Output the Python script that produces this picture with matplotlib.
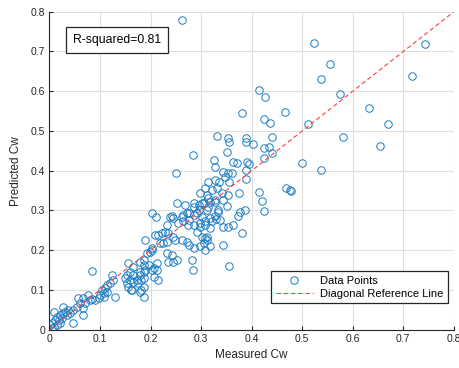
import matplotlib
matplotlib.use('Agg')
import matplotlib.pyplot as plt

plt.rcParams['font.family'] = ['Liberation Sans', 'DejaVu Sans']

# measured / predicted Cw pairs
measured = [
    0.524, 0.742, 0.555, 0.537, 0.718, 0.575, 0.633, 0.512, 0.670, 0.581,
    0.653, 0.499, 0.537, 0.478, 0.465, 0.468, 0.476, 0.262, 0.415, 0.427,
    0.381, 0.425, 0.436, 0.331, 0.353, 0.389, 0.441, 0.355, 0.389, 0.402,
    0.425, 0.435, 0.440, 0.425, 0.284, 0.351, 0.326, 0.363, 0.371, 0.390,
    0.395, 0.328, 0.388, 0.344, 0.354, 0.361, 0.348, 0.314, 0.328, 0.336,
    0.356, 0.389, 0.374, 0.415, 0.308, 0.321, 0.331, 0.298, 0.311, 0.341,
    0.354, 0.314, 0.328, 0.344, 0.420, 0.351, 0.333, 0.301, 0.314, 0.387,
    0.377, 0.373, 0.425, 0.291, 0.301, 0.308, 0.318, 0.328, 0.334, 0.364,
    0.354, 0.344, 0.381, 0.318, 0.308, 0.298, 0.291, 0.301, 0.311, 0.251,
    0.295, 0.285, 0.268, 0.272,
    0.252, 0.285, 0.295, 0.305, 0.318, 0.328, 0.202, 0.211, 0.242, 0.245,
    0.265, 0.277, 0.285, 0.311, 0.265, 0.277, 0.275, 0.285, 0.298, 0.321,
    0.330, 0.338, 0.232, 0.209, 0.222, 0.229, 0.235, 0.245, 0.249, 0.262,
    0.272, 0.277, 0.285, 0.298, 0.305, 0.307, 0.311, 0.318, 0.308, 0.343,
    0.189, 0.225, 0.232, 0.192, 0.199, 0.202, 0.219, 0.232, 0.242, 0.245,
    0.235, 0.252, 0.282, 0.284, 0.356, 0.179, 0.186, 0.196, 0.202, 0.212,
    0.215, 0.189, 0.179, 0.182, 0.186, 0.186,
    0.239, 0.254, 0.262, 0.215, 0.202, 0.156, 0.159, 0.166, 0.179, 0.186,
    0.186, 0.173, 0.166, 0.176, 0.163, 0.179, 0.159, 0.153, 0.206, 0.206,
    0.212,
    0.084, 0.123, 0.126, 0.120, 0.113, 0.110, 0.103, 0.107, 0.100, 0.113,
    0.130, 0.107, 0.097, 0.090, 0.084, 0.077, 0.080, 0.150, 0.153, 0.156,
    0.161, 0.057, 0.067, 0.070, 0.060, 0.054, 0.067, 0.047, 0.037, 0.031,
    0.041, 0.034, 0.027, 0.027, 0.021, 0.024, 0.014, 0.011, 0.004, 0.008,
    0.047, 0.018, 0.014, 0.004, 0.001, 0.008, 0.021, 0.067, 0.166, 0.182,
    0.186,
]
predicted = [
    0.722, 0.718, 0.669, 0.630, 0.639, 0.594, 0.558, 0.518, 0.518, 0.485,
    0.461, 0.418, 0.402, 0.349, 0.548, 0.356, 0.350, 0.779, 0.602, 0.586,
    0.545, 0.531, 0.521, 0.487, 0.483, 0.482, 0.484, 0.471, 0.471, 0.467,
    0.457, 0.459, 0.444, 0.431, 0.440, 0.446, 0.427, 0.423, 0.420, 0.423,
    0.416, 0.410, 0.402, 0.397, 0.395, 0.393, 0.385, 0.372, 0.377, 0.372,
    0.372, 0.378, 0.343, 0.346, 0.356, 0.351, 0.356, 0.343, 0.339, 0.343,
    0.339, 0.330, 0.326, 0.326, 0.324, 0.311, 0.301, 0.318, 0.308, 0.301,
    0.297, 0.287, 0.298, 0.293, 0.283, 0.274, 0.280, 0.286, 0.297, 0.263,
    0.257, 0.259, 0.244, 0.255, 0.263, 0.259, 0.246, 0.234, 0.232, 0.394,
    0.301, 0.309, 0.314, 0.293,
    0.318, 0.318, 0.314, 0.318, 0.322, 0.322, 0.294, 0.283, 0.286, 0.280,
    0.288, 0.293, 0.288, 0.301, 0.272, 0.276, 0.263, 0.263, 0.268, 0.272,
    0.278, 0.276, 0.263, 0.238, 0.244, 0.246, 0.242, 0.234, 0.225, 0.225,
    0.221, 0.213, 0.205, 0.209, 0.217, 0.230, 0.225, 0.209, 0.201, 0.213,
    0.225, 0.217, 0.221, 0.192, 0.196, 0.200, 0.217, 0.192, 0.188, 0.171,
    0.171, 0.175, 0.175, 0.150, 0.160, 0.171, 0.163, 0.163, 0.150, 0.150,
    0.125, 0.150, 0.137, 0.125, 0.108, 0.083,
    0.284, 0.268, 0.284, 0.238, 0.205, 0.167, 0.146, 0.158, 0.146, 0.146,
    0.129, 0.125, 0.137, 0.116, 0.100, 0.095, 0.125, 0.137, 0.154, 0.133,
    0.167,
    0.148, 0.137, 0.125, 0.116, 0.112, 0.104, 0.100, 0.091, 0.087, 0.095,
    0.083, 0.083, 0.079, 0.074, 0.076, 0.087, 0.074, 0.129, 0.116, 0.108,
    0.100, 0.079, 0.079, 0.066, 0.066, 0.057, 0.053, 0.049, 0.049, 0.045,
    0.041, 0.037, 0.057, 0.041, 0.037, 0.028, 0.032, 0.024, 0.016, 0.045,
    0.016, 0.024, 0.011, 0.003, 0.011, 0.007, 0.016, 0.037, 0.120, 0.100,
    0.175,
]
diag = [0, 0.8]
ticks = [0, 0.1, 0.2, 0.3, 0.4, 0.5, 0.6, 0.7, 0.8]
tick_labels = ['0', '0.1', '0.2', '0.3', '0.4', '0.5', '0.6', '0.7', '0.8']
r2_text = 'R-squared=0.81'

fig = plt.figure(figsize=(4.6, 3.68), dpi=100)
ax = fig.add_axes([0.1076, 0.1046, 0.879, 0.8634])

ax.plot(measured, predicted, 'o', linestyle='none', markersize=5.4,
        markerfacecolor='none', markeredgecolor='#1a7cc4', markeredgewidth=0.7,
        label='Data Points')
ax.plot(diag, diag, '--', color='#FF4040', linewidth=0.8, dashes=(4, 2.5),
        label='Diagonal Reference Line')

ax.set_xlim(0, 0.8)
ax.set_ylim(0, 0.8)
ax.set_xticks(ticks)
ax.set_xticklabels(tick_labels)
ax.set_yticks(ticks)
ax.set_yticklabels(tick_labels)
ax.grid(True, color='#DFDFDF', linewidth=0.8)
ax.set_axisbelow(True)
ax.tick_params(direction='in', length=3, width=0.8, colors='#262626',
               labelsize=7.5, pad=3)
for s in ['top', 'right']:
    ax.spines[s].set_visible(False)
for s in ['left', 'bottom']:
    ax.spines[s].set_color('#262626')
    ax.spines[s].set_linewidth(0.8)

ax.set_xlabel('Measured Cw', fontsize=8.5, color='#262626', labelpad=4)
ax.set_ylabel('Predicted Cw', fontsize=8.5, color='#262626', labelpad=6)

ax.text(0.058, 0.911, r2_text, transform=ax.transAxes, fontsize=8.8,
        va='center', ha='left', color='black',
        bbox=dict(boxstyle='square,pad=0.55', facecolor='white',
                  edgecolor='#262626', linewidth=0.9))

leg = ax.legend(loc='lower right', bbox_to_anchor=(0.985, 0.082),
                borderaxespad=0, fontsize=8, fancybox=False,
                framealpha=1, edgecolor='#262626', handlelength=3.4,
                handletextpad=0.6, borderpad=0.4, labelspacing=0.3)
leg.get_frame().set_linewidth(0.9)

plt.savefig('out.png', dpi=100)
